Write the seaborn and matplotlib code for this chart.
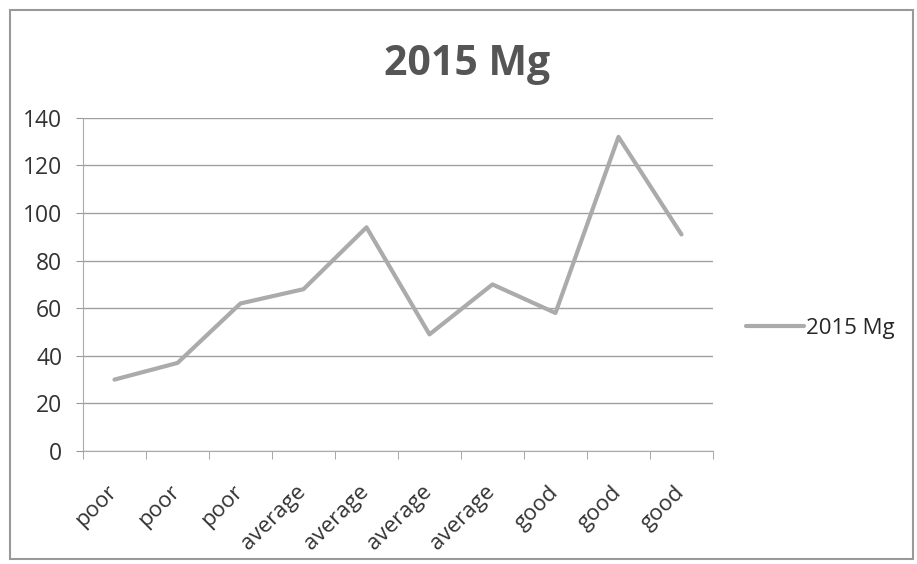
import seaborn as sns
import matplotlib.pyplot as plt
import matplotlib.transforms as mtransforms
import pandas as pd
from matplotlib.patches import Rectangle

# dane
categories = ["poor", "poor", "poor", "average", "average", "average",
              "average", "good", "good", "good"]
mg_2015 = [30, 37, 62, 68, 94, 49, 70, 58, 132, 91]
y_ticks = [0, 20, 40, 60, 80, 100, 120, 140]
series_name = "2015 Mg"

df = pd.DataFrame({"pos": range(len(categories)), "value": mg_2015,
                   "series": series_name})

sns.set_style("white")
plt.rcParams["font.family"] = ["Open Sans", "DejaVu Sans"]

fig = plt.figure(figsize=(9.17, 5.64), dpi=100)
ax = fig.add_axes([0.0905, 0.2004, 0.687, 0.5906])

sns.lineplot(data=df, x="pos", y="value", hue="series", palette=["#ababab"],
             linewidth=3.0, ax=ax, legend=False)

ax.set_xlim(-0.5, len(categories) - 0.5)
ax.set_ylim(0, 140)
ax.set_yticks(y_ticks)
ax.set_yticklabels([str(v) for v in y_ticks], fontsize=16.5, color="#333333")
ax.yaxis.grid(True, color="#a0a0a0", linewidth=1.0)
ax.set_axisbelow(True)

# etykiety kategorii i kreski między kategoriami
ax.set_xticks(range(len(categories)))
ax.set_xticklabels(categories, rotation=45, ha="right", rotation_mode="anchor",
                   fontsize=16, color="#333333")
ax.tick_params(axis="x", length=0, pad=22)
ax.set_xticks([i - 0.5 for i in range(len(categories) + 1)], minor=True)
ax.tick_params(axis="x", which="minor", length=6, color="#999999", direction="out")
ax.tick_params(axis="y", length=5, color="#999999", direction="out", pad=10)
ax.xaxis.set_ticks_position("bottom")
ax.yaxis.set_ticks_position("left")

shift = mtransforms.ScaledTranslation(-8 / 100, 0, fig.dpi_scale_trans)
for lab in ax.get_xticklabels():
    lab.set_transform(lab.get_transform() + shift)

for side in ["top", "right"]:
    ax.spines[side].set_visible(False)
ax.spines["left"].set_color("#aaaaaa")
ax.spines["bottom"].set_color("#aaaaaa")
ax.set_xlabel("")
ax.set_ylabel("")

fig.text(0.509, 0.885, "2015 Mg", ha="center", va="center", fontsize=29.5,
         fontweight="bold", color="#555555")

# legenda po prawej
fig.legend(handles=[plt.Line2D([], [], color="#ababab", linewidth=3.0)],
           labels=[series_name], loc="center left",
           bbox_to_anchor=(0.792, 0.418), frameon=False, fontsize=16,
           handlelength=2.6, handletextpad=0.1)

# ramka wykresu
fig.patches.append(Rectangle((0.011, 0.008), 0.985, 0.975, transform=fig.transFigure,
                             fill=False, edgecolor="#999999", linewidth=1.5))

fig.savefig("out.png", dpi=100)
